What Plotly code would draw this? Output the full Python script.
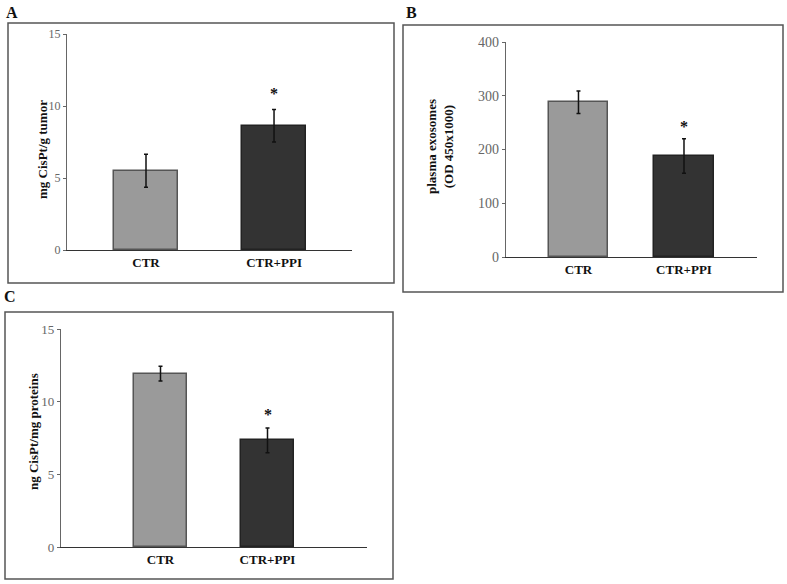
import plotly.graph_objects as go

W, H = 787, 584

categories = ["CTR", "CTR+PPI"]

# Panel A
a_values = [5.5, 8.63]
a_errors = [1.15, 1.13]
a_ticks = [0, 5, 10, 15]
a_star = [None, 10.9]

# Panel B
b_values = [288, 188]
b_errors = [21, 32]
b_ticks = [0, 100, 200, 300, 400]
b_star = [None, 242]

# Panel C
c_values = [11.93, 7.34]
c_errors = [0.5, 0.85]
c_ticks = [0, 5, 10, 15]
c_star = [None, 9.15]

bar_colors = ["#9a9a9a", "#333333"]
line_colors = ["#555555", "#222222"]

def px(x):
    return x / W

def py(y):
    return 1 - y / H

fig = go.Figure()

panels = [
    dict(vals=a_values, errs=a_errors, ticks=a_ticks, star=a_star, xn="x", yn="y",
         xdom=[px(67), px(352)], ydom=[py(250), py(34)], xr=[-0.617, 1.609], yr=[0, 15],
         width=0.5, tsize=12),
    dict(vals=b_values, errs=b_errors, ticks=b_ticks, star=b_star, xn="x2", yn="y2",
         xdom=[px(506), px(757)], ydom=[py(257), py(42)], xr=[-0.687, 1.692], yr=[0, 400],
         width=0.56, tsize=14),
    dict(vals=c_values, errs=c_errors, ticks=c_ticks, star=c_star, xn="x3", yn="y3",
         xdom=[px(61), px(367)], ydom=[py(547), py(329)], xr=[-0.93, 1.93], yr=[0, 15],
         width=0.5, tsize=13),
]

annotations = []
for i, p in enumerate(panels):
    fig.add_trace(go.Bar(
        x=categories, y=p["vals"], xaxis=p["xn"], yaxis=p["yn"],
        width=p["width"],
        marker=dict(color=bar_colors, line=dict(color=line_colors, width=1.5)),
        error_y=dict(type="data", array=p["errs"], visible=True, color="#111111",
                     thickness=1.5, width=2),
        showlegend=False,
    ))
    sfx = "" if i == 0 else str(i + 1)
    fig.update_layout(**{
        "xaxis" + sfx: dict(domain=p["xdom"], range=p["xr"], anchor=p["yn"],
                            showline=True, linecolor="#333333", linewidth=1.2,
                            ticks="", showgrid=False, zeroline=False, automargin=False,
                            tickfont=dict(family="Liberation Serif", size=13, color="#111111",
                                          weight="bold")),
        "yaxis" + sfx: dict(domain=p["ydom"], range=p["yr"], anchor=p["xn"],
                            showline=True, linecolor="#666666", linewidth=1.2,
                            ticks="outside", ticklen=3, tickcolor="#666666",
                            tickvals=p["ticks"], showgrid=False, zeroline=False, automargin=False,
                            tickfont=dict(family="Liberation Serif", size=p["tsize"], color="#666666")),
    })
    for j, s in enumerate(p["star"]):
        if s is not None:
            annotations.append(dict(x=categories[j], y=s, xref=p["xn"], yref=p["yn"],
                                    text="<b>*</b>", showarrow=False,
                                    xanchor="center", yanchor="middle",
                                    font=dict(family="Liberation Serif", size=16, color="#111111")))

# panel labels and y titles
label_font = dict(family="Liberation Serif", size=16, color="#111111")
title_font = dict(family="Liberation Serif", size=13, color="#111111")
annotations += [
    dict(x=px(4), y=py(2), xref="paper", yref="paper", text="<b>A</b>", showarrow=False,
         xanchor="left", yanchor="top", font=label_font),
    dict(x=px(404), y=py(2), xref="paper", yref="paper", text="<b>B</b>", showarrow=False,
         xanchor="left", yanchor="top", font=label_font),
    dict(x=px(2), y=py(286), xref="paper", yref="paper", text="<b>C</b>", showarrow=False,
         xanchor="left", yanchor="top", font=label_font),
    dict(x=px(42), y=py(150), xref="paper", yref="paper", text="<b>mg CisPt/g tumor</b>",
         showarrow=False, textangle=-90, xanchor="center", yanchor="middle", font=title_font),
    dict(x=px(440), y=py(147), xref="paper", yref="paper",
         text="<b>plasma exosomes<br>(OD 450x1000)</b>",
         showarrow=False, textangle=-90, xanchor="center", yanchor="middle",
         font=dict(family="Liberation Serif", size=13, color="#111111")),
    dict(x=px(33), y=py(432), xref="paper", yref="paper", text="<b>ng CisPt/mg proteins</b>",
         showarrow=False, textangle=-90, xanchor="center", yanchor="middle", font=title_font),
]

shapes = []
for (x0, y0, x1, y1) in [(8, 23, 394, 283), (403, 25, 783, 292), (5, 312, 393, 579)]:
    shapes.append(dict(type="rect", xref="paper", yref="paper",
                       x0=px(x0), x1=px(x1), y0=py(y1), y1=py(y0),
                       line=dict(color="#555555", width=1.5), fillcolor="rgba(0,0,0,0)"))

fig.update_layout(
    template="none",
    width=W, height=H,
    margin=dict(l=0, r=0, t=0, b=0, pad=0, autoexpand=False),
    paper_bgcolor="white", plot_bgcolor="white",
    annotations=annotations, shapes=shapes,
    bargap=0,
)

fig.write_html(
    "out.html",
    config={"displayModeBar": False},
    post_script="document.body.style.margin='0';document.body.style.overflow='hidden';",
)
